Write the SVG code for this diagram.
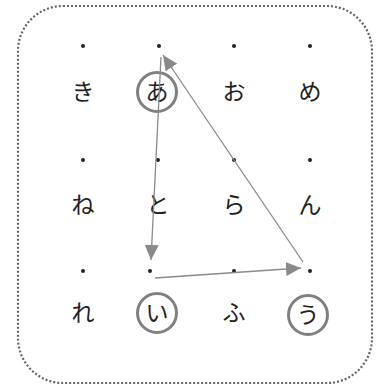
<svg xmlns="http://www.w3.org/2000/svg" width="382" height="389" viewBox="0 0 382 389">
<style>
.frame{fill:none;stroke:#666;stroke-width:2.2;stroke-dasharray:2 2}
.dot{fill:#222}
.ch{font-family:"Noto Sans CJK JP","Noto Sans CJK SC",sans-serif;font-size:23px;fill:#222;text-anchor:middle}
.ring{fill:none;stroke:#808080;stroke-width:3}
.edge{stroke:#8a8a8a;stroke-width:1.3;fill:none;marker-end:url(#ah)}
</style>
<defs>
<marker id="ah" markerUnits="userSpaceOnUse" markerWidth="15" markerHeight="14" refX="15" refY="7" orient="auto">
<path d="M0,0 L15,7 L0,14 z" fill="#8a8a8a"/>
</marker>
</defs>
<rect class="frame" x="18" y="6" width="354" height="377" rx="45" ry="45"/>
<g id="dots">
<circle class="dot" cx="83" cy="46" r="2"/><circle class="dot" cx="159" cy="46" r="2"/><circle class="dot" cx="234" cy="46" r="2"/><circle class="dot" cx="310" cy="46" r="2"/>
<circle class="dot" cx="83" cy="160" r="2"/><circle class="dot" cx="158" cy="160" r="2"/><circle class="dot" cx="234" cy="160" r="2"/><circle class="dot" cx="310" cy="160" r="2"/>
<circle class="dot" cx="83" cy="271" r="2"/><circle class="dot" cx="150" cy="271" r="2"/><circle class="dot" cx="234" cy="271" r="2"/><circle class="dot" cx="310" cy="271" r="2"/>
</g>
<g id="n-ki"><text class="ch" x="83" y="100">き</text></g>
<g id="n-a"><circle class="ring" cx="157" cy="92" r="19.5"/><text class="ch" x="157" y="100">あ</text></g>
<g id="n-o"><text class="ch" x="234" y="100">お</text></g>
<g id="n-me"><text class="ch" x="310" y="100">め</text></g>
<g id="n-ne"><text class="ch" x="83" y="213">ね</text></g>
<g id="n-to"><text class="ch" x="158" y="213">と</text></g>
<g id="n-ra"><text class="ch" x="234" y="213">ら</text></g>
<g id="n-n"><text class="ch" x="310" y="213">ん</text></g>
<g id="n-re"><text class="ch" x="83" y="321">れ</text></g>
<g id="n-i"><circle class="ring" cx="157" cy="313" r="19.5"/><text class="ch" x="157" y="321">い</text></g>
<g id="n-fu"><text class="ch" x="234" y="321">ふ</text></g>
<g id="n-u"><circle class="ring" cx="308" cy="315" r="19.5"/><text class="ch" x="308" y="323">う</text></g>
<g id="connectors">
<line class="edge" x1="161" y1="57" x2="151" y2="260"/>
<line class="edge" x1="155" y1="278" x2="301" y2="268"/>
<line class="edge" x1="303" y1="262" x2="163" y2="55"/>
</g>
</svg>
